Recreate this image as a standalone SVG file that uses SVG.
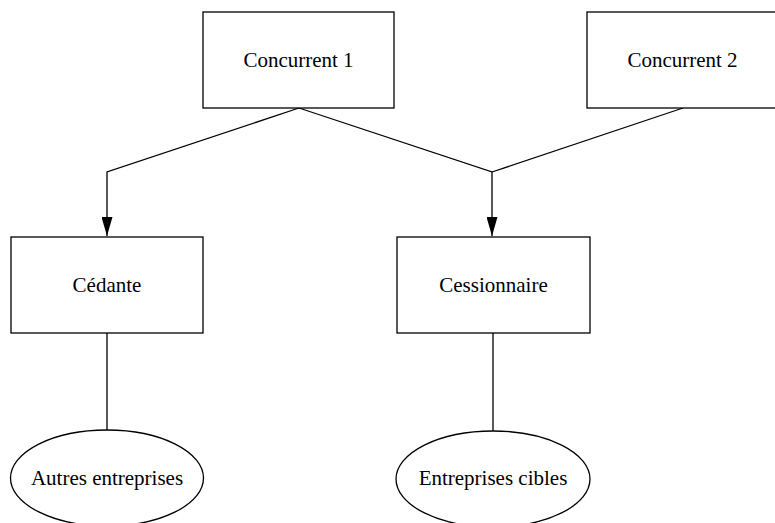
<svg xmlns="http://www.w3.org/2000/svg" width="775" height="523" viewBox="0 0 775 523">
  <style>
    .box { fill: #fff; stroke: #000; stroke-width: 1.3; }
    .lbl { font-family: "Liberation Serif", "Times New Roman", serif; font-size: 21px; fill: #000; text-anchor: middle; dominant-baseline: central; }
    .edge { fill: none; stroke: #000; stroke-width: 1.3; }
  </style>
  <defs>
    <marker id="arrow" viewBox="0 0 19 11" markerWidth="19" markerHeight="11" refX="19" refY="5.5" orient="auto" markerUnits="userSpaceOnUse">
      <path d="M0,0 L19,5.5 L0,11 Z" fill="#000"/>
    </marker>
  </defs>
  <rect width="775" height="523" fill="#fff"/>

  <g id="connectors">
    <polyline class="edge" points="299,108 107,172 107,236" marker-end="url(#arrow)"/>
    <polyline class="edge" points="299,108 492,172 492,236" marker-end="url(#arrow)"/>
    <line class="edge" x1="683" y1="108" x2="492" y2="172"/>
    <line class="edge" x1="107" y1="333" x2="107" y2="430"/>
    <line class="edge" x1="493" y1="333" x2="493" y2="431"/>
  </g>

  <g id="concurrent1">
    <rect class="box" x="203" y="12" width="191" height="96"/>
    <text class="lbl" x="298.5" y="60">Concurrent 1</text>
  </g>
  <g id="concurrent2">
    <rect class="box" x="587" y="12" width="191" height="96"/>
    <text class="lbl" x="682.5" y="60">Concurrent 2</text>
  </g>
  <g id="cedante">
    <rect class="box" x="11" y="237" width="192" height="96"/>
    <text class="lbl" x="107" y="285">Cédante</text>
  </g>
  <g id="cessionnaire">
    <rect class="box" x="397" y="237" width="193" height="96"/>
    <text class="lbl" x="493.5" y="285">Cessionnaire</text>
  </g>
  <g id="autres">
    <ellipse class="box" cx="107" cy="478" rx="96.5" ry="48"/>
    <text class="lbl" x="107" y="478">Autres entreprises</text>
  </g>
  <g id="cibles">
    <ellipse class="box" cx="493" cy="479" rx="97" ry="48"/>
    <text class="lbl" x="493" y="478">Entreprises cibles</text>
  </g>
</svg>
